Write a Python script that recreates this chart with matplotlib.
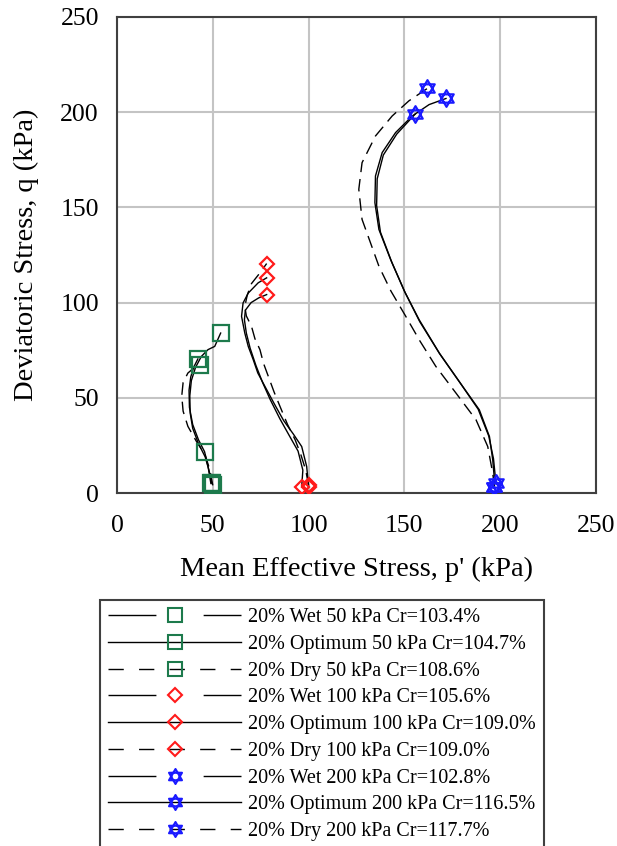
import matplotlib
matplotlib.use("Agg")
import matplotlib.pyplot as plt
from matplotlib.lines import Line2D
from matplotlib.path import Path
import numpy as np

plt.rcParams['font.family'] = 'serif'
plt.rcParams['font.serif'] = ['Liberation Serif', 'DejaVu Serif']

# stress paths, p' (kPa) vs q (kPa)
wet50_p = [49.0, 47.5, 45.7, 42.5, 39.5, 37.8, 37.6, 38.5, 40.0, 42.2]
wet50_q = [5.0, 14.0, 21.7, 28.0, 36.0, 45.0, 54.0, 61.0, 66.0, 70.4]
opt50_p = [49.5, 48.0, 46.0, 42.5, 39.5, 38.2, 38.0, 38.8, 41.0, 44.0, 47.5, 51.0, 54.1]
opt50_q = [5.0, 12.0, 19.0, 26.0, 34.0, 42.0, 51.0, 59.0, 66.0, 71.7, 75.3, 77.0, 84.0]
dry50_p = [50.0, 48.5, 46.0, 41.5, 37.0, 34.5, 33.8, 34.5, 37.0, 40.5, 43.1]
dry50_q = [4.0, 12.0, 20.0, 27.0, 35.0, 43.0, 51.0, 58.0, 63.0, 66.0, 67.4]

wet100_p = [96.4, 97.0, 94.5, 90.0, 85.0, 80.0, 76.0, 72.5, 69.5, 67.5, 66.5, 67.0, 70.0, 74.0, 78.1]
wet100_q = [3.3, 12.0, 22.0, 30.0, 39.0, 49.0, 58.0, 67.0, 76.0, 84.0, 91.0, 96.0, 100.0, 102.5, 104.2]
opt100_p = [100.0, 99.0, 96.4, 92.0, 87.0, 82.0, 77.2, 73.5, 71.1, 68.5, 66.7, 65.0, 65.8, 68.5, 73.7, 78.1]
opt100_q = [3.3, 13.9, 24.4, 31.0, 38.0, 47.0, 56.0, 63.0, 70.0, 77.0, 84.0, 92.8, 99.8, 105.0, 110.4, 113.0]
dry100_p = [100.0, 98.5, 96.0, 93.0, 89.0, 85.1, 82.0, 79.0, 76.5, 74.6, 72.0, 70.2, 67.5, 66.7, 68.0, 70.2, 74.6, 78.1]
dry100_q = [4.0, 12.0, 20.0, 27.9, 36.0, 45.4, 53.0, 61.2, 68.0, 75.3, 81.0, 87.5, 93.0, 98.0, 104.0, 110.0, 115.6, 120.5]

wet200_p = [198.0, 197.5, 196.5, 194.0, 188.5, 180.0, 168.5, 158.0, 150.5, 143.5, 137.5, 135.5, 135.8, 139.0, 146.0, 155.6]
wet200_q = [5.0, 8.0, 18.0, 30.0, 44.0, 56.5, 73.0, 90.0, 105.0, 121.0, 137.0, 151.0, 165.0, 177.5, 188.5, 199.0]
opt200_p = [197.0, 197.0, 196.1, 194.4, 189.1, 180.4, 168.2, 157.7, 150.0, 142.8, 136.7, 134.6, 134.9, 138.4, 145.4, 154.1, 162.9, 171.7]
opt200_q = [3.3, 6.8, 17.4, 29.6, 43.7, 56.0, 73.5, 91.0, 106.0, 122.6, 138.4, 152.5, 166.5, 178.8, 189.3, 198.0, 204.0, 207.2]
dry200_p = [197.0, 196.1, 193.5, 187.4, 176.9, 166.4, 158.0, 150.7, 143.0, 136.7, 132.3, 127.9, 126.2, 127.9, 134.9, 143.6, 152.4, 162.0]
dry200_q = [3.0, 10.4, 24.4, 38.4, 52.5, 66.5, 80.0, 92.8, 106.0, 119.1, 131.4, 143.7, 159.5, 173.5, 187.5, 198.0, 206.0, 212.5]

labels = [
    "20% Wet 50 kPa Cr=103.4%",
    "20% Optimum 50 kPa Cr=104.7%",
    "20% Dry 50 kPa Cr=108.6%",
    "20% Wet 100 kPa Cr=105.6%",
    "20% Optimum 100 kPa Cr=109.0%",
    "20% Dry 100 kPa Cr=109.0%",
    "20% Wet 200 kPa Cr=102.8%",
    "20% Optimum 200 kPa Cr=116.5%",
    "20% Dry 200 kPa Cr=117.7%",
]

GREEN = '#1d7a4c'
RED = '#ff1a1a'
BLUE = '#1a1aff'

# star of david marker: two overlapping triangles
ang_up = np.deg2rad([90, 210, 330])
ang_dn = np.deg2rad([270, 30, 150])
verts = [(np.cos(a), np.sin(a)) for a in ang_up] + [(0, 0)] + \
        [(np.cos(a), np.sin(a)) for a in ang_dn] + [(0, 0)]
codes = [Path.MOVETO, Path.LINETO, Path.LINETO, Path.CLOSEPOLY] * 2
star = Path(verts, codes)

series = [
    (wet50_p, wet50_q, '-', 's', GREEN, 11, [0, 2, len(wet50_p) - 1]),
    (opt50_p, opt50_q, '-', 's', GREEN, 11, [0, len(opt50_p) - 1]),
    (dry50_p, dry50_q, '--', 's', GREEN, 11, [0, len(dry50_p) - 1]),
    (wet100_p, wet100_q, '-', 'D', RED, 7.5, [0, len(wet100_p) - 1]),
    (opt100_p, opt100_q, '-', 'D', RED, 7.5, [0, len(opt100_p) - 1]),
    (dry100_p, dry100_q, '--', 'D', RED, 7.5, [0, len(dry100_p) - 1]),
    (wet200_p, wet200_q, '-', star, BLUE, 12, [0, len(wet200_p) - 1]),
    (opt200_p, opt200_q, '-', star, BLUE, 12, [0, len(opt200_p) - 1]),
    (dry200_p, dry200_q, '--', star, BLUE, 12, [0, len(dry200_p) - 1]),
]

fig = plt.figure(figsize=(6.17, 8.46), dpi=100)
ax = fig.add_axes([117 / 617, 1 - 493 / 846, 479 / 617, 476 / 846])

for p, q, ls, mk, col, ms, every in series:
    line, = ax.plot(p, q, color='black', lw=1.0, linestyle=ls, zorder=3)
    if ls == '--':
        line.set_dashes((9, 5))
    ax.plot(np.array(p)[every], np.array(q)[every], linestyle='none', marker=mk,
            markersize=ms, markerfacecolor='none', markeredgecolor=col,
            markeredgewidth=1.6, zorder=4)

ax.set_xlim(0, 250)
ax.set_ylim(0, 250)
ax.set_xticks(range(0, 251, 50))
ax.set_yticks(range(0, 251, 50))
ax.grid(True, color='#c4c4c4', lw=1.5)
ax.set_axisbelow(True)
ax.tick_params(length=0, labelsize=18.5)
ax.tick_params(axis='x', pad=16)
ax.tick_params(axis='y', pad=13)
for s in ax.spines.values():
    s.set_color('#404040')
    s.set_linewidth(1.5)

ax.set_xlabel("Mean Effective Stress, p' (kPa)", fontsize=20.5, labelpad=14)
ax.set_ylabel("Deviatoric Stress, q (kPa)", fontsize=20.5, labelpad=15)

# legend proxies imitate the excel legend look
styles = {'Wet': (0, (34.5, 34)), 'Optimum': '-', 'Dry': (0, (11, 11))}
handles = []
for lab, (p, q, ls, mk, col, ms, every) in zip(labels, series):
    kind = lab.split()[1]
    handles.append(Line2D([], [], color='black', lw=1.0, linestyle=styles[kind],
                          marker=mk, markersize=ms * 0.9, markerfacecolor='none',
                          markeredgecolor=col, markeredgewidth=1.5))

leg = fig.legend(handles, labels, loc='upper left',
                 bbox_to_anchor=(100 / 617, 1 - 600 / 846),
                 borderaxespad=0, fontsize=14.5, handlelength=6.6,
                 handletextpad=0.35, labelspacing=0.38, borderpad=0.4,
                 fancybox=False, framealpha=1, edgecolor='#404040',
                 numpoints=1)
leg.get_frame().set_linewidth(1.5)

fig.savefig("out.png", dpi=100)
